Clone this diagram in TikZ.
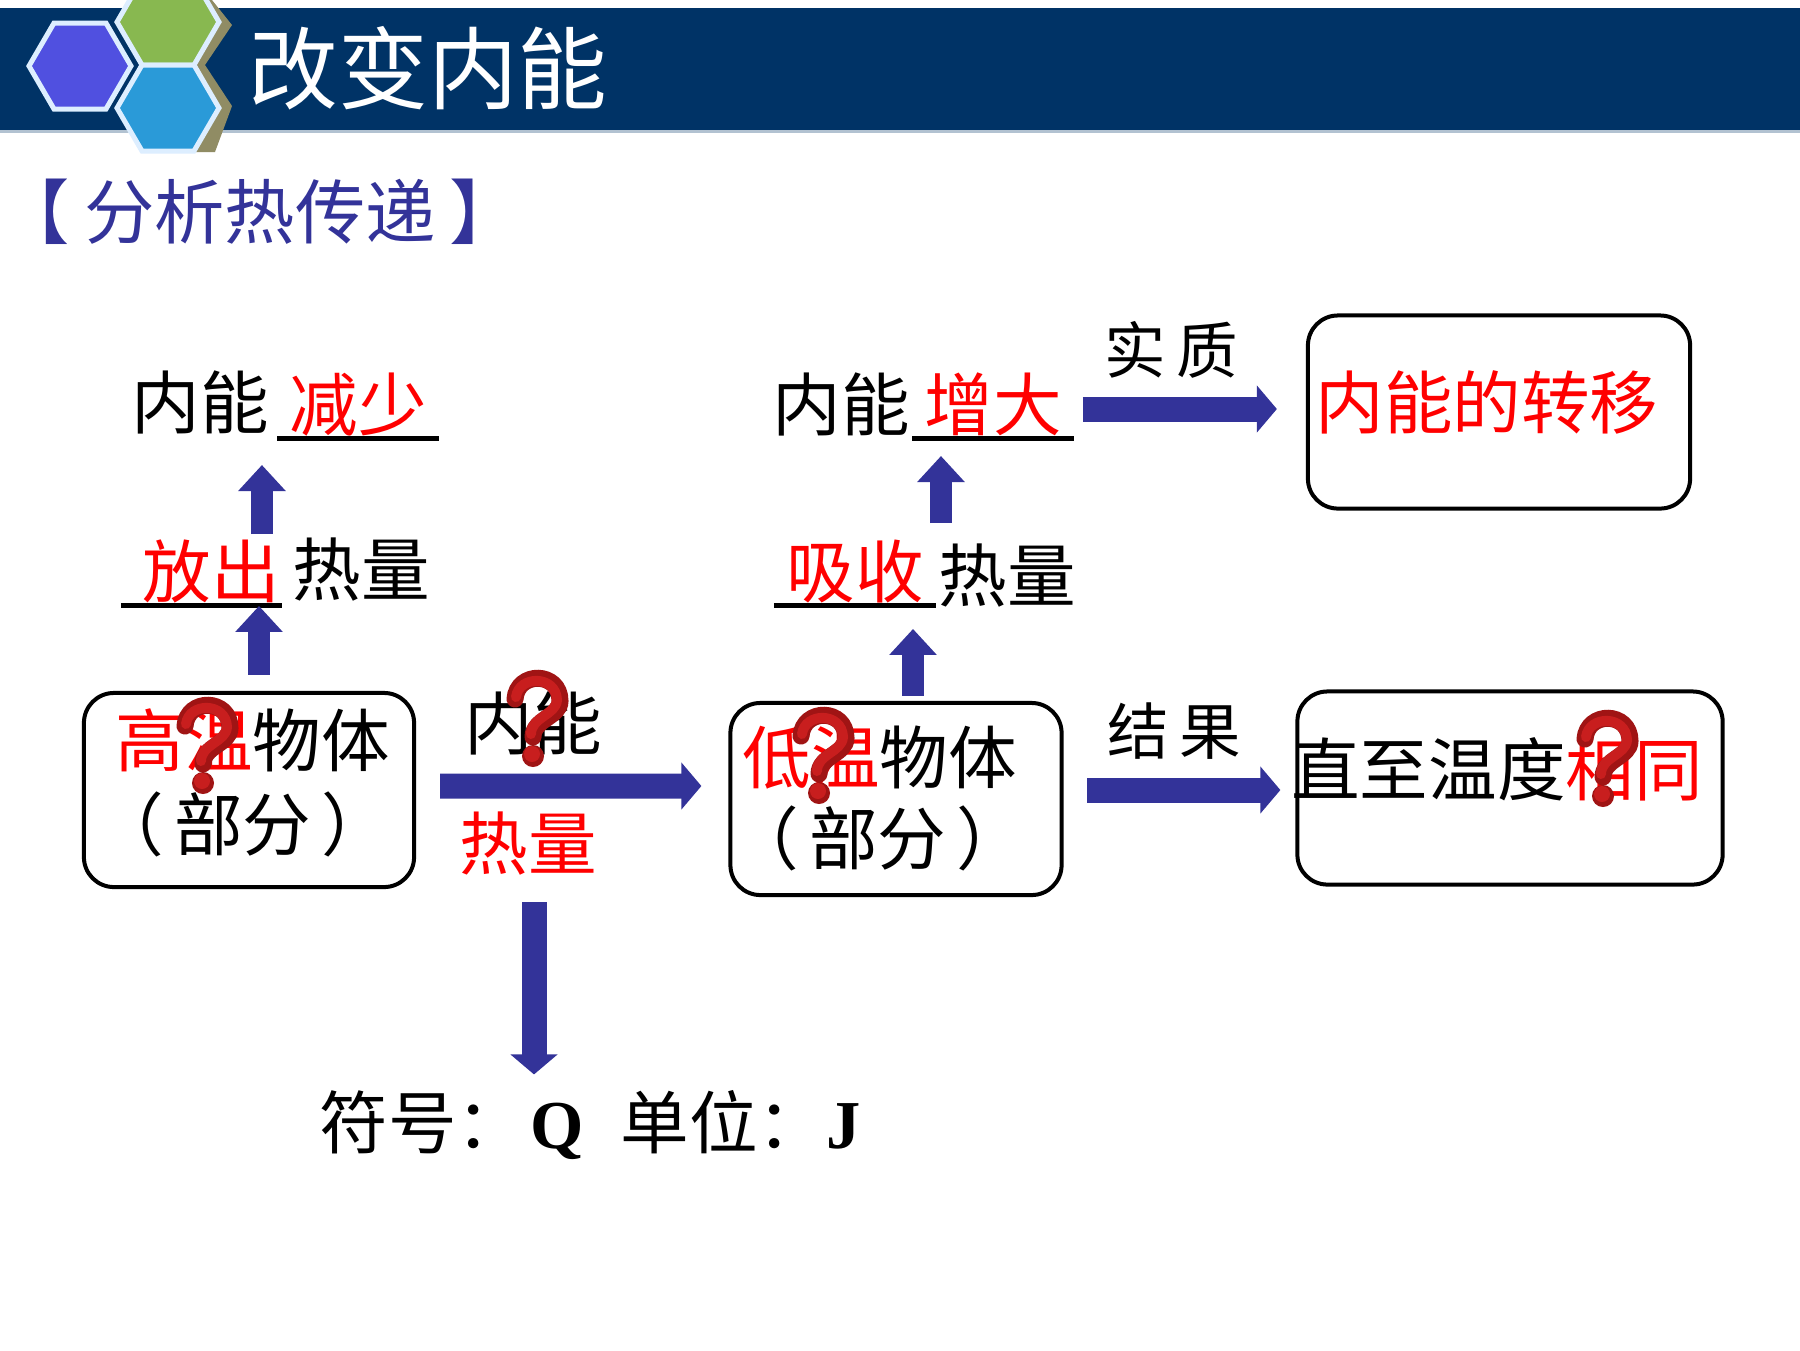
\documentclass[tikz,border=0pt]{standalone}
\usepackage{fontspec}
\setmainfont{Noto Sans CJK SC}
\newfontfamily\latinfont{Liberation Serif}
\usepackage{tikz}
\usetikzlibrary{arrows.meta, positioning}
\definecolor{banner}{HTML}{003366}
\definecolor{arrowblue}{HTML}{333399}
\definecolor{hexblue}{HTML}{5050E0}
\definecolor{hexgreen}{HTML}{88B850}
\definecolor{hexcyan}{HTML}{2A9AD8}
\definecolor{hexrim}{HTML}{DDEEFF}
\definecolor{markred}{HTML}{C81E1E}
\definecolor{markdark}{HTML}{A01414}

\begin{document}
\begin{tikzpicture}[
    x=0.01cm, y=-0.01cm,
    word/.style={font=\fontsize{19.5}{23}\selectfont, inner sep=0pt, text=black},
    redword/.style={word, text=red},
    smallword/.style={word, font=\fontsize{17.5}{21}\selectfont},
    blank/.style={word, text=red, minimum height=0.66cm, anchor=south},
    roundbox/.style={rectangle, draw, line width=0.04cm, rounded corners=0.3cm, inner sep=0pt},
    blockarrow/.style={-{Triangle[length=0.2cm, width=0.46cm]}, arrowblue, line width=0.25cm},
    uparrow/.style={-{Triangle[length=0.26cm, width=0.46cm]}, arrowblue, line width=0.22cm},
    blankline/.style={line width=0.05cm},
    hexcell/.pic={
        \path[pic actions, draw=hexrim, line width=0.05cm]
            (51,0) -- (26,43) -- (-26,43) -- (-51,0) -- (-26,-43) -- (26,-43) -- cycle;
    },
    qmark/.pic={
        \draw[line width=0.17cm, markdark, line cap=round]
            (-21,-22) .. controls (-19,-50) and (24,-50) .. (24,-20) .. controls (24,-4) and (-3,-2) .. (-3,16);
        \draw[line width=0.1cm, markred, line cap=round]
            (-20,-24) .. controls (-17,-46) and (20,-46) .. (21,-21) .. controls (20,-6) and (-5,-4) .. (-5,13);
        \fill[markdark] (-3,35) circle (0.11cm);
        \fill[markred] (-4,33) circle (0.08cm);
    },
]
\clip (0,0) rectangle (1800,1350);
\fill[white] (0,0) rectangle (1800,1350);

% Title bar
\fill[banner] (0,8) rectangle (1800,130);
\fill[banner!30] (0,130) rectangle (1800,133);
\fill[gray!70!olive] (180,152) -- (215,152) -- (232,106) -- (205,65) -- (232,25) -- (212,0) -- (190,0) -- cycle;
\pic[fill=hexblue] at (80,66) {hexcell};
\pic[fill=hexgreen] at (168,22) {hexcell};
\pic[fill=hexcyan] at (168,108) {hexcell};
\node[font=\fontsize{25.5}{30}\selectfont, text=white, inner sep=0pt] (title) at (428,68) {改变内能};
\node[font=\fontsize{20}{24}\selectfont, text=arrowblue, inner sep=0pt] (subtitle) at (260,212) {【\hspace{0.2em}分析热传递\hspace{0.2em}】};

% Left column
\node[roundbox, minimum width=3.3cm, minimum height=1.94cm] (hotbox) at (249,790) {};
\node[word, anchor=west] (hottext) at (115,740) {\textcolor{red}{高温}物体};
\node[word] (hotpart) at (243,824) {（\hspace{0.15em}部分\hspace{0.15em}）};
\node[blank, minimum width=1.41cm] (release) at (211,605) {放出};
\node[word, right=0.1cm of release.east, yshift=0.02cm] (releaseheat) {热量};
\draw[blankline] (release.south west) ++(-19,0) -- (release.south east);
\node[word] (energyl) at (200,402) {内能};
\node[blank, minimum width=1.6cm] (less) at (358,438) {减少};
\draw[blankline] (less.south west) -- (less.south east);

\draw[uparrow] ([xshift=0.1cm]hotbox.north) ++(0,-16) -- ++(0,-69);
\draw[uparrow] ([xshift=-0.96cm]less.south) ++(0,96) -- ++(0,-69);

% Middle
\node[word] (energym) at (533,723) {内能};
\node[redword] (heat) at (528,844) {热量};
\node[roundbox, minimum width=3.31cm, minimum height=1.92cm] (coldbox) at (896,799) {};
\node[word, anchor=west] (coldtext) at (742,758) {\textcolor{red}{低温}物体};
\node[word] (coldpart) at (878,838) {（\hspace{0.15em}部分\hspace{0.15em}）};
\draw[blockarrow] ([xshift=0.24cm,yshift=0.04cm]hotbox.east) -- ([xshift=-0.27cm,yshift=0.13cm]coldbox.west);
\draw[blockarrow] (heat.south) ++(6,26) -- ++(0,172);
\node[word, anchor=west] (symbol) at (319,1125) {符号：\hspace{0.08em}{\latinfont\bfseries Q}\hspace{0.53em}单位：{\latinfont\bfseries J}};

% Right column
\node[blank, minimum width=1.61cm] (absorb) at (855,605) {吸收\hspace{0.1cm}};
\draw[blankline] (absorb.south west) -- (absorb.south east);
\node[word, anchor=west] (absorbheat) at (938,576) {热量};
\node[word] (energyr) at (841,404) {内能};
\node[blank, minimum width=1.6cm] (more) at (993,438) {增大\hspace{0.2cm}};
\draw[blankline] (more.south west) -- (more.south east);
\draw[uparrow] ([xshift=0.17cm]coldbox.north) ++(0,-5) -- ++(0,-67);
\draw[uparrow] ([xshift=-0.52cm]more.south) ++(0,85) -- ++(0,-67);

\node[roundbox, minimum width=3.82cm, minimum height=1.93cm] (transferbox) at (1499,412) {};
\node[redword] (transfer) at (1487,402) {内能的转移};
\node[smallword] (essence) at (1171,350) {实\,质};
\draw[blockarrow] ([xshift=-2.23cm,yshift=0.03cm]transferbox.west) -- ([xshift=-0.29cm,yshift=0.03cm]transferbox.west);

\node[roundbox, minimum width=4.25cm, minimum height=1.93cm] (equalbox) at (1510,788) {};
\node[word] (equal) at (1497,769) {直至温度\textcolor{red}{相同}};
\node[smallword] (result) at (1174,731) {结\,果};
\draw[blockarrow] ([xshift=-2.08cm,yshift=-0.02cm]equalbox.west) -- ([xshift=-0.15cm,yshift=-0.02cm]equalbox.west);

% Question marks
\pic at (206,748) {qmark};
\pic at (536,721) {qmark};
\pic at (822,758) {qmark};
\pic at (1606,761) {qmark};
\end{tikzpicture}
\end{document}
